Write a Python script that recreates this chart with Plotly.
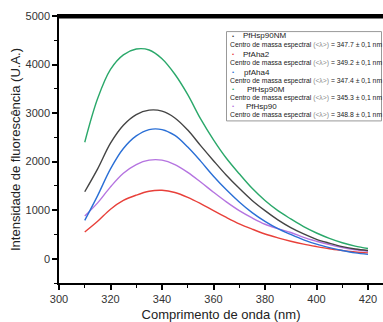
import plotly.graph_objects as go

wavelength = [310, 315, 320, 325, 330, 335, 340, 345, 350, 355, 360, 365,
              370, 375, 380, 385, 390, 395, 400, 405, 410, 415, 420]

pfhsp90nm = [1380, 1850, 2380, 2750, 2970, 3060, 3040, 2900, 2650, 2330, 2020, 1720,
             1450, 1200, 990, 800, 640, 510, 400, 320, 250, 200, 170]
pfaha2 = [550, 770, 1020, 1200, 1310, 1390, 1410, 1365, 1265, 1135, 990, 850,
          720, 610, 510, 430, 360, 300, 250, 205, 170, 140, 120]
pfaha4 = [790, 1300, 1850, 2270, 2530, 2660, 2660, 2540, 2300, 2010, 1700, 1420,
          1170, 950, 770, 620, 500, 390, 300, 230, 170, 120, 90]
pfhsp90m = [2400, 3300, 3900, 4200, 4320, 4300, 4120, 3800, 3380, 2880, 2450, 2070,
            1750, 1450, 1200, 990, 820, 660, 530, 420, 330, 260, 210]
pfhsp90 = [880, 1150, 1480, 1760, 1940, 2030, 2030, 1940, 1780, 1580, 1370, 1170,
           990, 840, 710, 620, 540, 440, 360, 290, 230, 185, 155]

names = ["PfHsp90NM", "PfAha2", "pfAha4", "PfHsp90M", "PfHsp90"]
centros = ["347.7", "349.2", "347.4", "345.3", "348.8"]
series = [pfhsp90nm, pfaha2, pfaha4, pfhsp90m, pfhsp90]
colors = ["#444444", "#e8403a", "#2a6fd6", "#2aa86a", "#b574e0"]

x_ticks = [300, 320, 340, 360, 380, 400, 420]
y_ticks = [0, 1000, 2000, 3000, 4000, 5000]

FONT = "Liberation Sans, Arial, sans-serif"

fig = go.Figure()
# draw order: lower curves first
for i in [1, 4, 2, 0, 3]:
    fig.add_trace(go.Scatter(x=wavelength, y=series[i], mode="lines",
                             line=dict(color=colors[i], width=1.4, shape="spline"),
                             name=names[i], showlegend=False))

# top frame line (drawn in paper space, just inside the top edge)
fig.add_shape(type="line", xref="paper", yref="paper", x0=0, x1=1,
              y0=1 - 1 / 269, y1=1 - 1 / 269,
              line=dict(color="#000000", width=3), layer="above")

# legend box built from annotations
lx0, lx1 = (226.5 - 59) / 324, (381.5 - 59) / 324
ly_top, ly_bot = 1 - (31.7 - 16) / 269, 1 - (121.7 - 16) / 269
fig.add_shape(type="rect", xref="paper", yref="paper", x0=lx0, x1=lx1,
              y0=ly_bot, y1=ly_top, line=dict(color="#999999", width=1),
              fillcolor="white", layer="above")
row_px = [36, 45.7, 54.5, 63.7, 72.5, 81.3, 89.8, 98.6, 107, 115.8]
name_x = [240.5, 240.5, 241.5, 245, 243.5]
for k in range(5):
    yn = 1 - (row_px[2 * k] - 16) / 269
    yc = 1 - (row_px[2 * k + 1] - 16) / 269
    fig.add_annotation(xref="paper", yref="paper", x=(233.5 - 59) / 324, y=yn,
                       text="•", showarrow=False, xanchor="center", yanchor="middle",
                       font=dict(size=6, color=colors[k], family=FONT))
    fig.add_annotation(xref="paper", yref="paper", x=(name_x[k] - 59) / 324, y=yn,
                       text=names[k], showarrow=False, xanchor="left", yanchor="middle",
                       font=dict(size=8, color="#222222", family=FONT))
    fig.add_annotation(xref="paper", yref="paper", x=(227.5 - 59) / 324, y=yc,
                       text="Centro de massa espectral <span style='color:#8a8a8a'>(&lt;λ&gt;)</span> = "
                            + centros[k] + " ± 0,1 nm",
                       showarrow=False, xanchor="left", yanchor="middle",
                       font=dict(size=6.8, color="#222222", family=FONT))

axis_common = dict(showgrid=False, zeroline=False, showline=True, linecolor="black",
                   linewidth=1.5, ticks="outside", ticklen=5, tickwidth=1.5,
                   tickcolor="black", tickfont=dict(size=11, color="#333333", family=FONT))

fig.update_xaxes(range=[300, 300 + 324 / 2.575], tickvals=x_ticks, mirror=True,
                 minor=dict(dtick=10, ticks="outside", ticklen=3, tickwidth=1.2, tickcolor="black"),
                 title=dict(text="Comprimento de onda (nm)", font=dict(size=13, color="#222222", family=FONT),
                            standoff=8),
                 **axis_common)
fig.update_yaxes(range=[-500, 5000], tickvals=y_ticks,
                 minor=dict(dtick=500, ticks="outside", ticklen=3, tickwidth=1.2, tickcolor="black"),
                 title=dict(text="Intensidade de fluorescência (U.A.)",
                            font=dict(size=13, color="#222222", family=FONT), standoff=2),
                 **axis_common)

fig.update_layout(width=383, height=322, margin=dict(l=59, r=0, t=16, b=37),
                  plot_bgcolor="white", paper_bgcolor="white",
                  font=dict(family=FONT))

fig.write_html("out.html", config={"displayModeBar": False},
               post_script="document.body.style.margin='0';document.body.style.padding='0';"
                           "document.body.style.overflow='hidden';")
